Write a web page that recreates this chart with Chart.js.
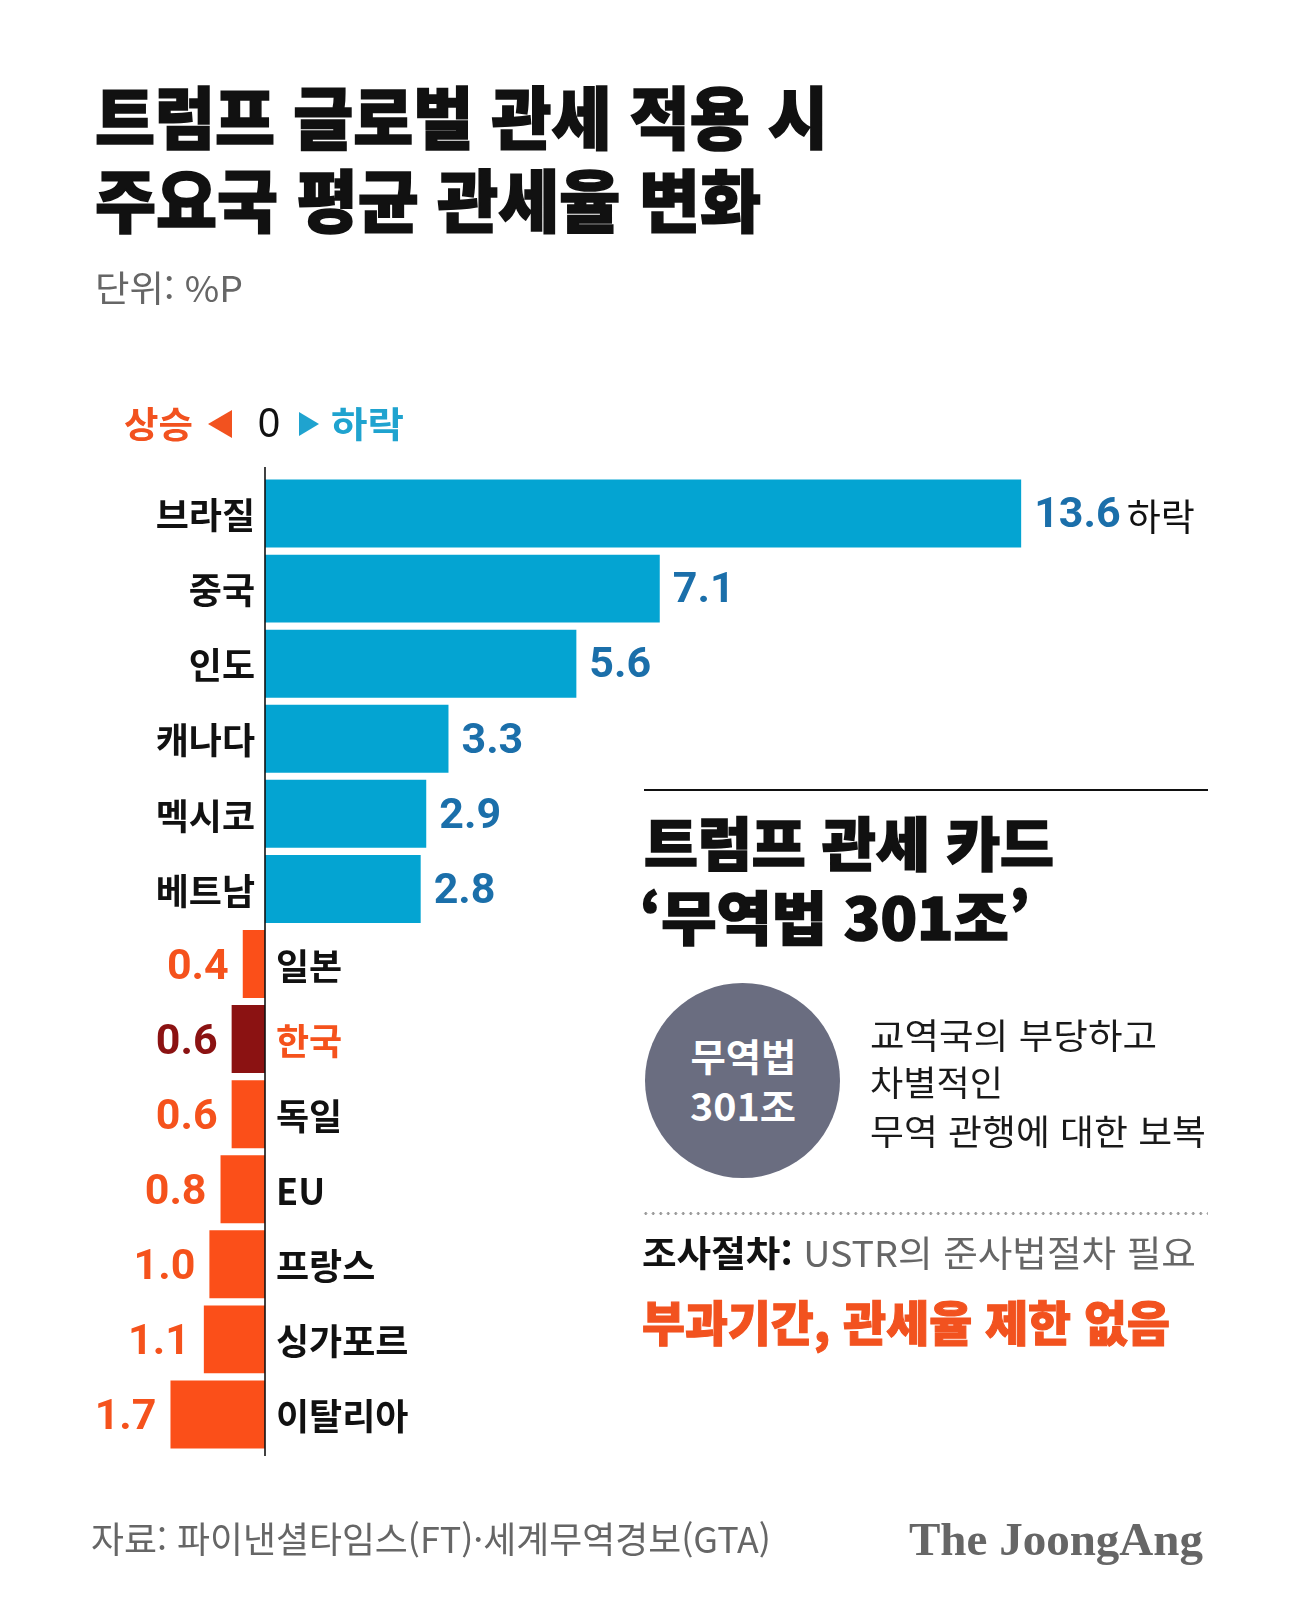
<!DOCTYPE html>
<html lang="ko">
<head>
<meta charset="utf-8">
<script src="https://cdn.jsdelivr.net/npm/chart.js@4"></script>
<style>
  html, body { margin:0; padding:0; background:#ffffff; }
  #wrap { position:relative; width:1294px; height:1617px; overflow:hidden; background:#ffffff; }
  #c { position:absolute; left:0; top:0; }
  .t { position:absolute; white-space:nowrap; font-family:"Noto Sans CJK KR","Noto Sans",sans-serif; line-height:1; }
  .heavy { -webkit-text-stroke:1.6px currentColor; }
  .tri-l { position:absolute; width:0; height:0; border-top:14px solid transparent; border-bottom:14px solid transparent; border-right:24px solid #f2521f; }
  .tri-r { position:absolute; width:0; height:0; border-top:12px solid transparent; border-bottom:12px solid transparent; border-left:20px solid #1fa3cf; }
</style>
</head>
<body>
<div id="wrap">
  <canvas id="c" width="1294" height="1617"></canvas>

  <div class="t fit heavy" data-l="95" data-c="118" data-w="733" style="font-size:68px;font-weight:900;color:#111;">트럼프 글로벌 관세 적용 시</div>
  <div class="t fit heavy" data-l="95" data-c="201" data-w="666" style="font-size:68px;font-weight:900;color:#111;">주요국 평균 관세율 변화</div>
  <div class="t fit" data-l="95" data-c="288" data-w="148" style="font-size:36px;font-weight:400;color:#666;">단위: %P</div>

  <div class="t fit" data-l="124" data-c="424" data-w="69" style="font-size:36px;font-weight:700;color:#f2521f;">상승</div>
  <div class="tri-l" style="left:208px;top:410px;"></div>
  <div class="t fit" data-l="258" data-c="425" data-w="22" style="font-size:42px;font-weight:400;color:#111;font-family:'Liberation Sans',sans-serif;">0</div>
  <div class="tri-r" style="left:299px;top:412px;"></div>
  <div class="t fit" data-l="331" data-c="424" data-w="73" style="font-size:36px;font-weight:700;color:#1fa3cf;">하락</div>

  <div style="position:absolute;left:644px;top:789px;width:564px;height:2px;background:#111;"></div>
  <div class="t fit heavy" data-l="644" data-c="844" data-w="410" style="font-size:58px;font-weight:900;color:#111;">트럼프 관세 카드</div>
  <div class="t fit heavy" data-l="640" data-c="918" data-w="390" style="font-size:58px;font-weight:900;color:#111;">‘무역법 301조’</div>

  <div style="position:absolute;left:645px;top:983px;width:195px;height:195px;border-radius:50%;background:#6a6d80;"></div>
  <div class="t fitc" data-x="743" data-c="1057" data-w="106" style="font-size:38px;font-weight:700;color:#fff;">무역법</div>
  <div class="t fitc" data-x="743" data-c="1107" data-w="106" style="font-size:38px;font-weight:700;color:#fff;">301조</div>

  <div class="t fit" data-l="870" data-c="1035" data-w="287" style="font-size:35px;font-weight:400;color:#1a1a1a;">교역국의 부당하고</div>
  <div class="t fit" data-l="870" data-c="1082" data-w="133" style="font-size:35px;font-weight:400;color:#1a1a1a;">차별적인</div>
  <div class="t fit" data-l="870" data-c="1131" data-w="336" style="font-size:35px;font-weight:400;color:#1a1a1a;">무역 관행에 대한 보복</div>

  <div style="position:absolute;left:642px;top:1212px;width:566px;height:3px;background-image:radial-gradient(circle,#9a9a9a 1.3px,transparent 1.6px);background-size:7.5px 3px;background-repeat:repeat-x;"></div>

  <div class="t fit" data-l="642" data-c="1253" data-w="554" style="font-size:36px;font-weight:400;color:#666;"><span style="color:#111;font-weight:700;">조사절차:</span> USTR의 준사법절차 필요</div>
  <div class="t fit heavy" data-l="642" data-c="1322" data-w="528" style="font-size:48px;font-weight:900;color:#f2521f;-webkit-text-stroke-width:1.1px;">부과기간, 관세율 제한 없음</div>

  <div class="t fit" data-l="91" data-c="1539" data-w="680" style="font-size:36px;font-weight:400;color:#666;">자료: 파이낸셜타임스(FT)·세계무역경보(GTA)</div>
  <div class="t fit" data-l="909" data-c="1542" data-w="294" style="font-size:46px;font-weight:700;color:#666;font-family:'Liberation Serif','DejaVu Serif',serif;">The JoongAng</div>
</div>

<script>
// ---- data ----
const countries = ["브라질","중국","인도","캐나다","멕시코","베트남","일본","한국","독일","EU","프랑스","싱가포르","이탈리아"];
// positive = 하락 (decline), negative = 상승 (rise), in %P
const changes = [13.6, 7.1, 5.6, 3.3, 2.9, 2.8, -0.4, -0.6, -0.6, -0.8, -1.0, -1.1, -1.7];
const highlight = "한국";
const axisMin = -3;
const axisMax = 15;

// ---- text fitting (layout only) ----
document.querySelectorAll('.fit, .fitc').forEach(el => {
  const fs = parseFloat(el.style.fontSize);
  const c = parseFloat(el.dataset.c);
  el.style.top = (c - fs * 0.55) + 'px';
  const w = el.getBoundingClientRect().width;
  const target = parseFloat(el.dataset.w);
  const s = target / w;
  if (el.classList.contains('fitc')) {
    const x = parseFloat(el.dataset.x);
    el.style.left = (x - w / 2) + 'px';
    el.style.transformOrigin = 'center center';
  } else {
    el.style.left = el.dataset.l + 'px';
    el.style.transformOrigin = 'left center';
  }
  el.style.transform = 'scaleX(' + s.toFixed(4) + ')';
});

// ---- colours by rule ----
const CYAN = '#04a4d2', ORANGE = '#fb4f19', DARKRED = '#8b1212';
const VALBLUE = '#1b6faa', VALORANGE = '#f5521c';
const barColors = countries.map((n, i) => n === highlight ? DARKRED : (changes[i] >= 0 ? CYAN : ORANGE));

const labelPlugin = {
  id: 'labels',
  afterDatasetsDraw(chart) {
    const ctx = chart.ctx;
    const xs = chart.scales.x;
    const x0 = xs.getPixelForValue(0);
    const area = chart.chartArea;
    const meta = chart.getDatasetMeta(0);
    ctx.save();
    // zero axis line
    ctx.strokeStyle = '#111';
    ctx.lineWidth = 1.6;
    ctx.beginPath();
    ctx.moveTo(x0, area.top - 9);
    ctx.lineTo(x0, area.bottom + 4);
    ctx.stroke();

    ctx.textBaseline = 'middle';
    meta.data.forEach((bar, i) => {
      const v = changes[i];
      const y = bar.y;
      const name = countries[i];
      const txt = Math.abs(v).toFixed(1);
      if (v >= 0) {
        ctx.font = 'bold 36px "Noto Sans CJK KR", sans-serif';
        ctx.fillStyle = '#111';
        ctx.textAlign = 'right';
        ctx.fillText(name, x0 - 10, y + 2);
        ctx.font = 'bold 43px Roboto, "Liberation Sans", sans-serif';
        ctx.fillStyle = VALBLUE;
        ctx.textAlign = 'left';
        const vx = bar.x + 13;
        ctx.fillText(txt, vx, y + 3);
        if (i === 0) {
          const tw = ctx.measureText(txt).width;
          ctx.font = '400 37px "Noto Sans CJK KR", sans-serif';
          ctx.fillStyle = '#111';
          ctx.fillText('하락', vx + tw + 6, y + 3);
        }
      } else {
        const isH = name === highlight;
        ctx.font = 'bold 36px "Noto Sans CJK KR", sans-serif';
        ctx.fillStyle = isH ? VALORANGE : '#111';
        ctx.textAlign = 'left';
        ctx.fillText(name, x0 + 11, y + 2);
        ctx.font = 'bold 43px Roboto, "Liberation Sans", sans-serif';
        ctx.fillStyle = isH ? DARKRED : VALORANGE;
        ctx.textAlign = 'right';
        ctx.fillText(txt, bar.x - 14, y + 4);
      }
    });
    ctx.restore();
  }
};

new Chart(document.getElementById('c'), {
  type: 'bar',
  data: {
    labels: countries,
    datasets: [{
      data: changes,
      backgroundColor: barColors,
      borderWidth: 0,
      barPercentage: 0.905,
      categoryPercentage: 1.0
    }]
  },
  options: {
    indexAxis: 'y',
    responsive: false,
    animation: false,
    devicePixelRatio: 1,
    layout: { padding: { left: 98.2, right: 195, top: 476, bottom: 165 } },
    plugins: { legend: { display: false }, tooltip: { enabled: false } },
    scales: {
      x: { display: false, min: axisMin, max: axisMax, grid: { display: false } },
      y: { display: false, grid: { display: false } }
    }
  },
  plugins: [labelPlugin]
});
</script>
</body>
</html>
